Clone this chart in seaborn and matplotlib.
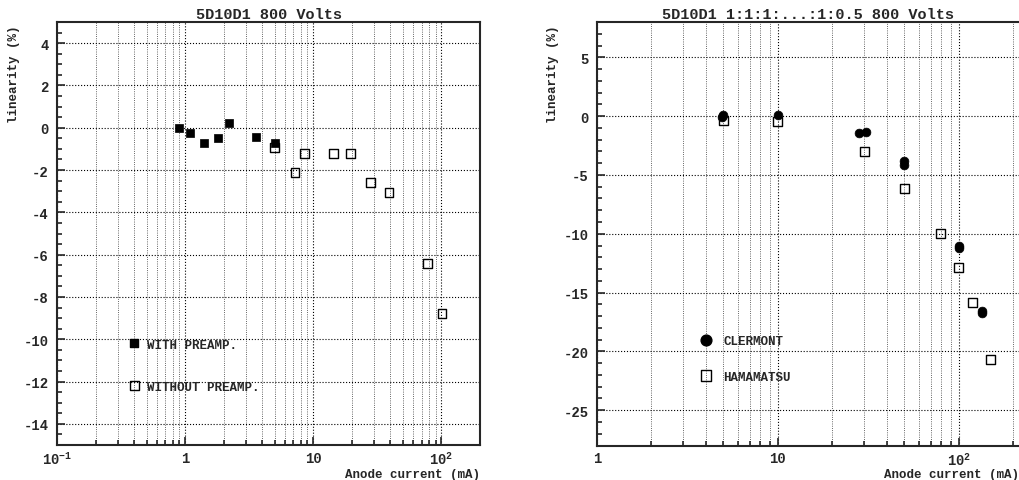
import numpy as np
import pandas as pd
import seaborn as sns
from matplotlib import pyplot as plt
from matplotlib.ticker import FixedLocator, FixedFormatter, MultipleLocator, LogLocator, NullFormatter

# left panel: 5D10D1 800 Volts
with_x = [0.9, 1.1, 1.4, 1.8, 2.2, 3.6, 5.0]
with_y = [0.0, -0.25, -0.71, -0.47, 0.24, -0.45, -0.72]
without_x = [5.0, 7.2, 8.5, 14.4, 19.5, 28, 39, 78, 101]
without_y = [-0.95, -2.13, -1.2, -1.2, -1.2, -2.6, -3.07, -6.4, -8.77]

# right panel: 5D10D1 1:1:1:...:1:0.5 800 Volts
clermont_x = [4.9, 5.0, 10, 27.9, 30.5, 49.7, 49.7, 100, 100, 135, 135]
clermont_y = [-0.1, 0.1, 0.1, -1.42, -1.33, -3.85, -4.17, -11.0, -11.2, -16.55, -16.75]
hama_x = [5.0, 10, 30, 50, 79.5, 100, 119, 149]
hama_y = [-0.4, -0.48, -2.98, -6.18, -9.98, -12.9, -15.85, -20.7]

sns.set_style("ticks")
plt.rcParams['font.family'] = ['Liberation Mono', 'DejaVu Sans Mono']
plt.rcParams['font.weight'] = 'bold'
plt.rcParams['axes.titleweight'] = 'bold'
plt.rcParams['axes.labelweight'] = 'bold'
plt.rcParams['axes.unicode_minus'] = False
plt.rcParams['mathtext.fontset'] = 'custom'
plt.rcParams['mathtext.rm'] = 'Liberation Mono:bold'
plt.rcParams['mathtext.it'] = 'Liberation Mono:bold'
plt.rcParams['mathtext.bf'] = 'Liberation Mono:bold'

fig = plt.figure(figsize=(10.19, 4.81), dpi=100)
ax1 = fig.add_axes([57 / 1019, 35 / 481, 423 / 1019, 423 / 481])
ax2 = fig.add_axes([597 / 1019, 34.5 / 481, 422 / 1019, 423.5 / 481])


def style_axes(ax, xlim, ylim, xmajor, xlabels, ymajor, yminor, title):
    ax.set_xscale('log')
    ax.set_xlim(*xlim)
    ax.set_ylim(*ylim)
    ax.xaxis.set_major_locator(FixedLocator(xmajor))
    ax.xaxis.set_major_formatter(FixedFormatter(xlabels))
    ax.xaxis.set_minor_locator(LogLocator(base=10, subs=np.arange(2, 10)))
    ax.xaxis.set_minor_formatter(NullFormatter())
    ax.yaxis.set_major_locator(MultipleLocator(ymajor))
    ax.yaxis.set_minor_locator(MultipleLocator(yminor))
    ax.tick_params(which='both', direction='in', top=False, right=False, labelsize=10, width=1.2)
    ax.tick_params(which='major', length=6, pad=6)
    ax.tick_params(axis='x', which='major', pad=4)
    ax.tick_params(which='minor', length=3.5)
    ax.grid(True, which='major', axis='both', color='black', linestyle=':', linewidth=0.8)
    ax.grid(True, which='minor', axis='x', color='black', linestyle=':', linewidth=0.6, alpha=0.8)
    for s in ax.spines.values():
        s.set_linewidth(1.5)
    ax.set_title(title, fontsize=11, pad=3)
    ax.set_xlabel('Anode current (mA)', fontsize=9, loc='right')
    ax.set_ylabel('linearity (%)', fontsize=9, loc='top')
    ax.xaxis.set_label_coords(1.0, -0.054)


style_axes(ax1, (0.1, 200), (-15, 5), [0.1, 1, 10, 100],
           [r'$10^{-1}$', '1', '10', r'$10^{2}$'], 2, 0.5, '5D10D1 800 Volts')
ax1.yaxis.set_label_coords(-0.088, 0.995)

style_axes(ax2, (1, 215), (-28, 8), [1, 10, 100],
           ['1', '10', r'$10^{2}$'], 5, 1, '5D10D1 1:1:1:...:1:0.5 800 Volts')
ax2.spines['right'].set_visible(False)
ax2.yaxis.set_label_coords(-0.09, 0.995)

# left panel points
sns.scatterplot(x=with_x, y=with_y, ax=ax1, marker='s', s=36, color='black',
                edgecolor='black', linewidth=0.5, zorder=3)
sns.scatterplot(x=without_x, y=without_y, ax=ax1, marker='s', s=40, facecolor='none',
                edgecolor='black', linewidth=1.0, zorder=3)

ax1.scatter([0.4], [-10.2], marker='s', s=36, color='black', zorder=3)
ax1.scatter([0.4], [-12.2], marker='s', s=40, facecolor='none', edgecolor='black', linewidth=1.0, zorder=3)
ax1.text(0.5, -10.25, 'WITH PREAMP.', fontsize=9, va='center', ha='left')
ax1.text(0.5, -12.25, 'WITHOUT PREAMP.', fontsize=9, va='center', ha='left')

# right panel points
sns.scatterplot(x=clermont_x, y=clermont_y, ax=ax2, marker='o', s=40, color='black',
                edgecolor='black', linewidth=0.5, zorder=3)
sns.scatterplot(x=hama_x, y=hama_y, ax=ax2, marker='s', s=42, facecolor='none',
                edgecolor='black', linewidth=1.0, zorder=3)

ax2.scatter([4.0], [-19.05], marker='o', s=60, color='black', zorder=3)
ax2.scatter([4.0], [-22.05], marker='s', s=60, facecolor='none', edgecolor='black', linewidth=1.0, zorder=3)
ax2.text(5.0, -19.15, 'CLERMONT', fontsize=9, va='center', ha='left')
ax2.text(5.0, -22.15, 'HAMAMATSU', fontsize=9, va='center', ha='left')

fig.savefig('out.png', dpi=100)
